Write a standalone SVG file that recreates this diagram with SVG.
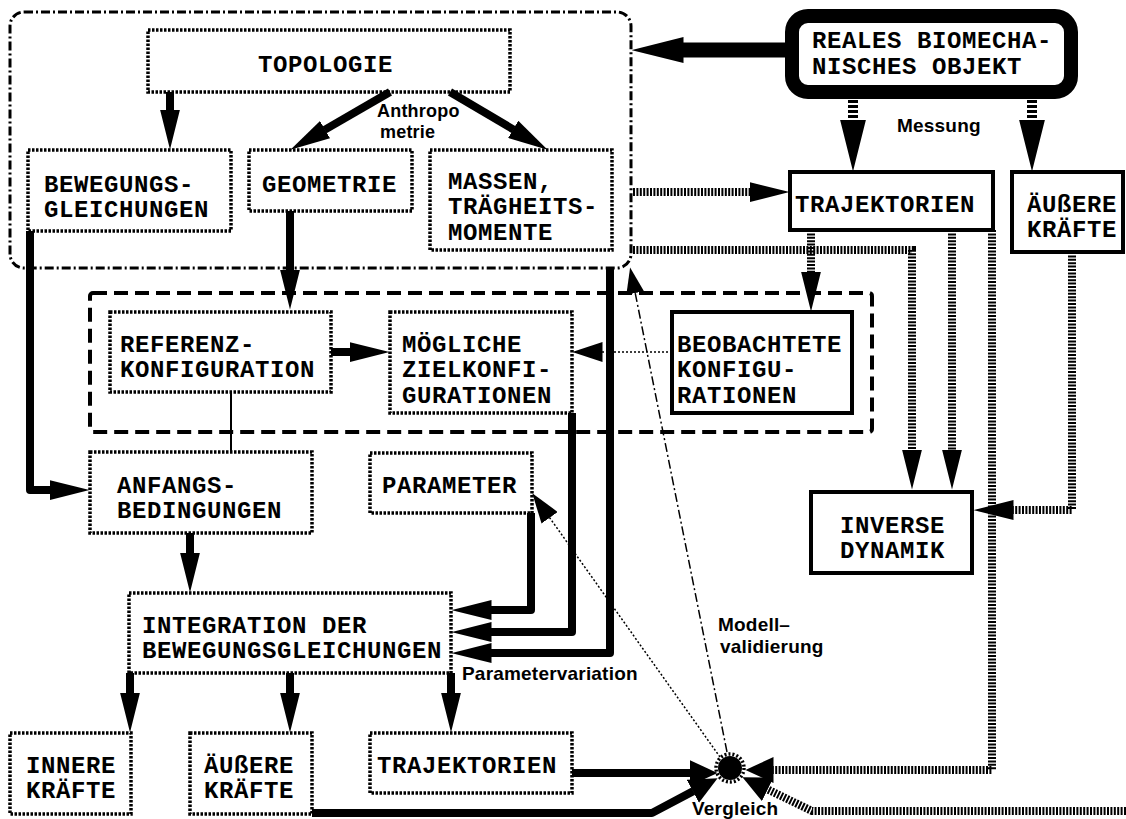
<svg xmlns="http://www.w3.org/2000/svg" width="1126" height="819" viewBox="0 0 1126 819">
<style>
.bg{fill:#fff}
.dot{fill:#fff;stroke:#000;stroke-width:3.5;stroke-dasharray:2.5 1.5}
.sol{fill:#fff;stroke:#000;stroke-width:4}
.mono{font-family:"Liberation Mono","Courier New",monospace;font-weight:bold;font-size:24px;letter-spacing:0.6px;fill:#000}
.sans{font-family:"Liberation Sans",Arial,sans-serif;font-weight:bold;font-size:19px;letter-spacing:0.2px;fill:#000}
.thick{fill:none;stroke:#000;stroke-width:8;stroke-linejoin:round}
.ladder{fill:none;stroke:#000;stroke-width:8;stroke-dasharray:2 1.4}
.meas{fill:none;stroke:#000;stroke-width:10;stroke-dasharray:3 2}
.thin{fill:none;stroke:#000;stroke-width:1.5;stroke-dasharray:2 2}
.dashdot{fill:none;stroke:#000;stroke-width:1.5;stroke-dasharray:9 3 2 3}
</style>
<defs>
<marker id="m40" viewBox="0 -10 40 20" markerWidth="40" markerHeight="20" refX="0.5" refY="0" markerUnits="userSpaceOnUse" orient="auto"><path d="M0,-10 L40,0 L0,10 z" fill="#000"/></marker>
<marker id="m52" viewBox="0 -13 52 26" markerWidth="52" markerHeight="26" refX="0.5" refY="0" markerUnits="userSpaceOnUse" orient="auto"><path d="M0,-13 L52,0 L0,13 z" fill="#000"/></marker>
<marker id="m30" viewBox="0 -10 30 20" markerWidth="30" markerHeight="20" refX="0.5" refY="0" markerUnits="userSpaceOnUse" orient="auto"><path d="M0,-10 L30,0 L0,10 z" fill="#000"/></marker>
<marker id="mV" viewBox="0 -13 28 26" markerWidth="28" markerHeight="26" refX="0.5" refY="0" markerUnits="userSpaceOnUse" orient="auto"><path d="M0,-13 L28,0 L0,13 z" fill="#000"/></marker>
<marker id="m26" viewBox="0 -9 26 18" markerWidth="26" markerHeight="18" refX="0.5" refY="0" markerUnits="userSpaceOnUse" orient="auto"><path d="M0,-9 L26,0 L0,9 z" fill="#000"/></marker>
</defs>
<rect class="bg" x="0" y="0" width="1126" height="819"/>

<g id="containers">
<rect x="10" y="12" width="621" height="256" rx="14" fill="none" stroke="#000" stroke-width="3" stroke-dasharray="9 3 2 3"/>
<rect x="90" y="293" width="782" height="139" rx="3" fill="none" stroke="#000" stroke-width="4" stroke-dasharray="14 7"/>
</g>

<g id="n-topologie"><rect class="dot" x="148" y="30" width="362" height="62"/><text class="mono" x="258" y="72">TOPOLOGIE</text></g>
<g id="n-bewegungsgl"><rect class="dot" x="28" y="150" width="203" height="81"/><text class="mono" x="44" y="192">BEWEGUNGS-</text><text class="mono" x="44" y="217">GLEICHUNGEN</text></g>
<g id="n-geometrie"><rect class="dot" x="249" y="150" width="163" height="61"/><text class="mono" x="262" y="192">GEOMETRIE</text></g>
<g id="n-massen"><rect class="dot" x="430" y="150" width="182" height="100"/><text class="mono" x="448" y="189">MASSEN,</text><text class="mono" x="448" y="214">TRÄGHEITS-</text><text class="mono" x="448" y="240">MOMENTE</text></g>
<g id="n-reales"><rect x="792" y="16" width="279" height="76" rx="16" fill="#fff" stroke="#000" stroke-width="14"/><text class="mono" x="812" y="48">REALES BIOMECHA-</text><text class="mono" x="812" y="74">NISCHES OBJEKT</text></g>
<g id="n-traj-mess"><rect class="sol" x="790" y="172" width="203" height="58"/><text class="mono" x="795" y="212">TRAJEKTORIEN</text></g>
<g id="n-aeussere-mess"><rect class="sol" x="1012" y="172" width="111" height="80"/><text class="mono" x="1027" y="212">ÄUßERE</text><text class="mono" x="1027" y="237">KRÄFTE</text></g>
<g id="n-referenz"><rect class="dot" x="110" y="312" width="221" height="80"/><text class="mono" x="120" y="352">REFERENZ-</text><text class="mono" x="120" y="377">KONFIGURATION</text></g>
<g id="n-moegliche"><rect class="dot" x="390" y="312" width="182" height="101"/><text class="mono" x="402" y="352">MÖGLICHE</text><text class="mono" x="402" y="377">ZIELKONFI-</text><text class="mono" x="402" y="403">GURATIONEN</text></g>
<g id="n-beobachtete"><rect class="sol" x="672" y="312" width="180" height="101"/><text class="mono" x="677" y="352">BEOBACHTETE</text><text class="mono" x="677" y="377">KONFIGU-</text><text class="mono" x="677" y="403">RATIONEN</text></g>
<g id="n-anfangs"><rect class="dot" x="90" y="452" width="222" height="81"/><text class="mono" x="117" y="493">ANFANGS-</text><text class="mono" x="117" y="518">BEDINGUNGEN</text></g>
<g id="n-parameter"><rect class="dot" x="370" y="453" width="162" height="60"/><text class="mono" x="382" y="493">PARAMETER</text></g>
<g id="n-inverse"><rect class="sol" x="811" y="492" width="161" height="81"/><text class="mono" x="840" y="533">INVERSE</text><text class="mono" x="840" y="558">DYNAMIK</text></g>
<g id="n-integration"><rect class="dot" x="129" y="593" width="322" height="80"/><text class="mono" x="142" y="633">INTEGRATION DER</text><text class="mono" x="142" y="658">BEWEGUNGSGLEICHUNGEN</text></g>
<g id="n-innere"><rect class="dot" x="10" y="733" width="121" height="81"/><text class="mono" x="26" y="773">INNERE</text><text class="mono" x="26" y="798">KRÄFTE</text></g>
<g id="n-aeussere-sim"><rect class="dot" x="190" y="733" width="122" height="81"/><text class="mono" x="204" y="773">ÄUßERE</text><text class="mono" x="204" y="798">KRÄFTE</text></g>
<g id="n-traj-sim"><rect class="dot" x="370" y="733" width="202" height="60"/><text class="mono" x="377" y="773">TRAJEKTORIEN</text></g>
<g id="n-vergleich"><circle cx="730" cy="768" r="12" fill="#000"/><circle cx="730" cy="768" r="14" fill="none" stroke="#000" stroke-width="3.5" stroke-dasharray="2 2"/></g>

<g id="connectors">
<path class="thick" d="M170,92 V110" marker-end="url(#m40)"/>
<path class="thick" d="M390,92 L324.6,129.9" marker-end="url(#m40)"/>
<path class="thick" d="M450,92 L513.6,129.6" marker-end="url(#m40)"/>
<path class="thick" d="M290,211 V270" marker-end="url(#m40)"/>
<path class="thick" d="M30,231 V490 H50" marker-end="url(#m40)"/>
<path class="thick" d="M331,352 H350" marker-end="url(#m40)"/>
<path class="thick" d="M190,533 V553" marker-end="url(#m40)"/>
<path class="thick" d="M531,513 V610 H491" marker-end="url(#m40)"/>
<path class="thick" d="M572,413 V632 H491" marker-end="url(#m40)"/>
<path class="thick" d="M610,268 V653 H491" marker-end="url(#m40)"/>
<path class="thick" d="M130,673 V693" marker-end="url(#m40)"/>
<path class="thick" d="M290,673 V693" marker-end="url(#m40)"/>
<path class="thick" d="M451,673 V693" marker-end="url(#m40)"/>
<path class="thick" d="M572,773 H690" marker-end="url(#mV)"/>
<path class="thick" d="M312,813 H652 L693.3,791.1" marker-end="url(#mV)"/>
<path d="M785,50 H683" fill="none" stroke="#000" stroke-width="15" marker-end="url(#m52)"/>
<path class="meas" d="M853,100 V120" marker-end="url(#m52)"/>
<path class="meas" d="M1032,100 V120" marker-end="url(#m52)"/>
<path class="ladder" d="M633,192 H750" marker-end="url(#m40)"/>
<path class="ladder" d="M633,250 H912 V450" marker-end="url(#m40)"/>
<path class="ladder" d="M811,230 V272" marker-end="url(#m40)"/>
<path class="ladder" d="M952,230 V450" marker-end="url(#m40)"/>
<path class="ladder" d="M992,230 V770 H773" marker-end="url(#mV)"/>
<path class="ladder" d="M1072,252 V510 H1013" marker-end="url(#m40)"/>
<path class="ladder" d="M1126,811 H812 L767.2,789.2" marker-end="url(#mV)"/>
<path class="thin" d="M672,352 H602" marker-end="url(#m30)"/>
<path class="thin" d="M720,757 L549.4,517.4" marker-end="url(#m30)"/>
<path class="dashdot" d="M727,752 L635.1,292.5" marker-end="url(#m26)"/>
<path d="M231,392 V452" fill="none" stroke="#000" stroke-width="2"/>
</g>

<g id="labels">
<text class="sans" x="377" y="117" style="font-size:18px">Anthropo</text>
<text class="sans" x="380" y="138" style="font-size:18px">metrie</text>
<text class="sans" x="897" y="132">Messung</text>
<text class="sans" x="718" y="631">Modell–</text>
<text class="sans" x="720" y="653">validierung</text>
<text class="sans" x="462" y="680">Parametervariation</text>
<text class="sans" x="692" y="815">Vergleich</text>
</g>
</svg>
